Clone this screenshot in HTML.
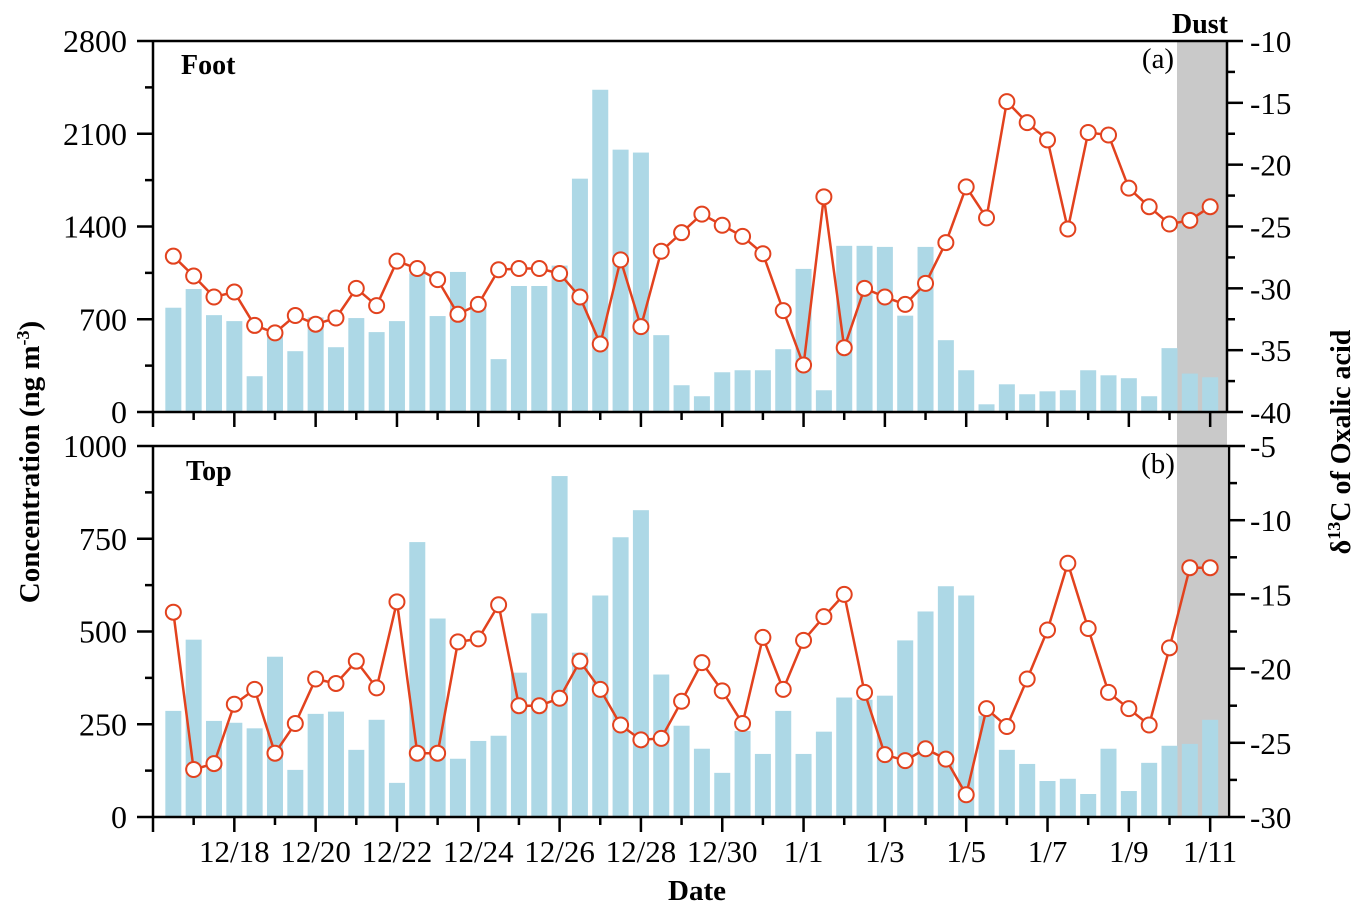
<!DOCTYPE html>
<html><head><meta charset="utf-8"><style>
html,body{margin:0;padding:0;background:#fff;}
svg text{font-family:"Liberation Serif",serif;fill:#000;}
</style></head><body>
<svg id="chart" width="1364" height="917" viewBox="0 0 1364 917" xmlns="http://www.w3.org/2000/svg"></svg>
<script>
// ---- data ----
const dateLabels = ["12/18","12/20","12/22","12/24","12/26","12/28","12/30","1/1","1/3","1/5","1/7","1/9","1/11"];
const footConc = [787,928,731,686,270,605,459,714,489,709,603,686,1047,724,1057,782,399,951,951,1105,1761,2432,1980,1958,580,202,119,300,315,315,474,1080,164,1254,1254,1246,727,1246,542,315,58,209,134,156,164,315,277,255,119,482,290,262];
const footD13C = [-27.4,-29.0,-30.7,-30.3,-33.0,-33.6,-32.2,-32.9,-32.4,-30.0,-31.4,-27.8,-28.4,-29.3,-32.1,-31.3,-28.5,-28.4,-28.4,-28.8,-30.7,-34.5,-27.7,-33.1,-27.0,-25.5,-24.0,-24.9,-25.8,-27.2,-31.8,-36.2,-22.6,-34.8,-30.0,-30.7,-31.3,-29.6,-26.3,-21.8,-24.3,-14.9,-16.6,-18.0,-25.2,-17.4,-17.6,-21.9,-23.4,-24.8,-24.5,-23.4];
const topConc = [286,478,259,254,239,432,127,278,284,181,262,92,741,535,157,205,219,389,549,919,443,597,754,827,384,246,184,119,232,170,286,170,230,322,316,327,476,554,622,597,273,181,143,97,103,62,184,70,146,192,197,262];
const topD13C = [-16.2,-26.8,-26.4,-22.4,-21.4,-25.7,-23.7,-20.7,-21.0,-19.5,-21.3,-15.5,-25.7,-25.7,-18.2,-18.0,-15.7,-22.5,-22.5,-22.0,-19.5,-21.4,-23.8,-24.8,-24.7,-22.2,-19.6,-21.5,-23.7,-17.9,-21.4,-18.1,-16.5,-15.0,-21.6,-25.8,-26.2,-25.4,-26.1,-28.5,-22.7,-23.9,-20.7,-17.4,-12.9,-17.3,-21.6,-22.7,-23.8,-18.6,-13.2,-13.2];
const footLeftTicks = [0,700,1400,2100,2800];
const footRightTicks = [-40,-35,-30,-25,-20,-15,-10];
const topLeftTicks = [0,250,500,750,1000];
const topRightTicks = [-30,-25,-20,-15,-10,-5];

// ---- layout ----
const NS="http://www.w3.org/2000/svg";
const svg=document.getElementById('chart');
const X0=153, DAY=40.66;
function xIdx(i){return X0 + (0.5+i*0.5)*DAY;}
function el(tag,attrs,parent){const e=document.createElementNS(NS,tag);for(const k in attrs)e.setAttribute(k,attrs[k]);(parent||svg).appendChild(e);return e;}
function txt(s,attrs,parent){const t=el('text',attrs,parent);t.textContent=s;return t;}

const panels=[
 {key:'foot',top:41,bot:412,lmax:2800,rmin:-40,rmax:-10,conc:footConc,d:footD13C,lt:footLeftTicks,lminor:350,rt:footRightTicks,label:'Foot',tag:'(a)',lx:181,ly:74,xAxisR:1227},
 {key:'top',top:446,bot:817,lmax:1000,rmin:-30,rmax:-5,conc:topConc,d:topD13C,lt:topLeftTicks,lminor:125,rt:topRightTicks,label:'Top',tag:'(b)',lx:186,ly:480,xAxisR:1229}
];

const dust=el('rect',{x:1177,y:41,width:50,height:776,fill:'#c9c9c9'});


const dl=txt('Dust',{x:1200,y:33,'text-anchor':'middle','font-size':28,'font-weight':'bold'});



panels.forEach(p=>{
 const g=el('g',{});
 
 
 const yL=v=>p.bot-(v/p.lmax)*(p.bot-p.top);
 const yR=v=>p.bot-((v-p.rmin)/(p.rmax-p.rmin))*(p.bot-p.top);
 p.conc.forEach((v,i)=>{
  const b=el('rect',{x:xIdx(i)-8,y:yL(v),width:16,height:p.bot-yL(v),fill:'#add8e6'},g);
  
  
 });
 const pts=p.d.map((v,i)=>xIdx(i)+','+yR(v)).join(' ');
 const ln=el('polyline',{points:pts,fill:'none',stroke:'#e2421e','stroke-width':2.5},g);
 
 
 p.d.forEach((v,i)=>{
  const c=el('circle',{cx:xIdx(i),cy:yR(v),r:7.5,fill:'#fff',stroke:'#e2421e','stroke-width':2},g);
  
  
 });
 const ax=el('g',{stroke:'#000','stroke-width':2.5,fill:'none'},g);
 
 
 el('line',{x1:X0,y1:p.top,x2:X0,y2:p.bot},ax);
 el('line',{x1:p.xAxisR,y1:p.top,x2:p.xAxisR,y2:p.bot},ax);
 el('line',{x1:X0,y1:p.top,x2:p.xAxisR,y2:p.top},ax);
 el('line',{x1:X0,y1:p.bot,x2:p.xAxisR,y2:p.bot},ax);
 for(let v=0;v<=p.lmax+0.1;v+=p.lminor){
  const major=p.lt.includes(Math.round(v));
  el('line',{x1:X0,y1:yL(v),x2:X0-(major?16:8),y2:yL(v)},ax);
 }
 p.lt.forEach(v=>{
  const t=txt(String(v),{x:127,y:yL(v)+11,'text-anchor':'end','font-size':32},g);
  
  
 });
 for(let v=p.rmin;v<=p.rmax+0.01;v+=2.5){
  const major=p.rt.includes(Math.round(v))&&Math.abs(v-Math.round(v))<0.01;
  el('line',{x1:p.xAxisR,y1:yR(v),x2:p.xAxisR+(major?16:8),y2:yR(v)},ax);
 }
 p.rt.forEach(v=>{
  const t=txt(String(v),{x:1250,y:yR(v)+11,'text-anchor':'start','font-size':31},g);
  
  
 });
 for(let d=0;d<=26;d++){
  const x=X0+d*DAY; if(x>p.xAxisR+1)break;
  el('line',{x1:x,y1:p.bot,x2:x,y2:p.bot+(d%2===0?15:8)},ax);
 }
 const lab=txt(p.label,{x:p.lx,y:p.ly,'font-size':28,'font-weight':'bold'},g);
 
 
 const tg=txt(p.tag,{x:1158,y:p.top+27,'text-anchor':'middle','font-size':29},g);
 
 
});

dateLabels.forEach((s,k)=>{
 const t=txt(s,{x:X0+(2+2*k)*DAY,y:862,'text-anchor':'middle','font-size':31});
 
 
});
const xt=txt('Date',{x:697,y:900,'text-anchor':'middle','font-size':29,'font-weight':'bold'});


const yt=el('text',{transform:'translate(39,462) rotate(-90)','text-anchor':'middle','font-size':29,'font-weight':'bold'});
yt.innerHTML='Concentration (ng m<tspan baseline-shift="super" font-size="18">-3</tspan>)';


const rt=el('text',{transform:'translate(1350,442) rotate(-90)','text-anchor':'middle','font-size':28,'font-weight':'bold'});
rt.innerHTML='δ<tspan baseline-shift="super" font-size="18">13</tspan>C of Oxalic acid';


</script>
</body></html>
